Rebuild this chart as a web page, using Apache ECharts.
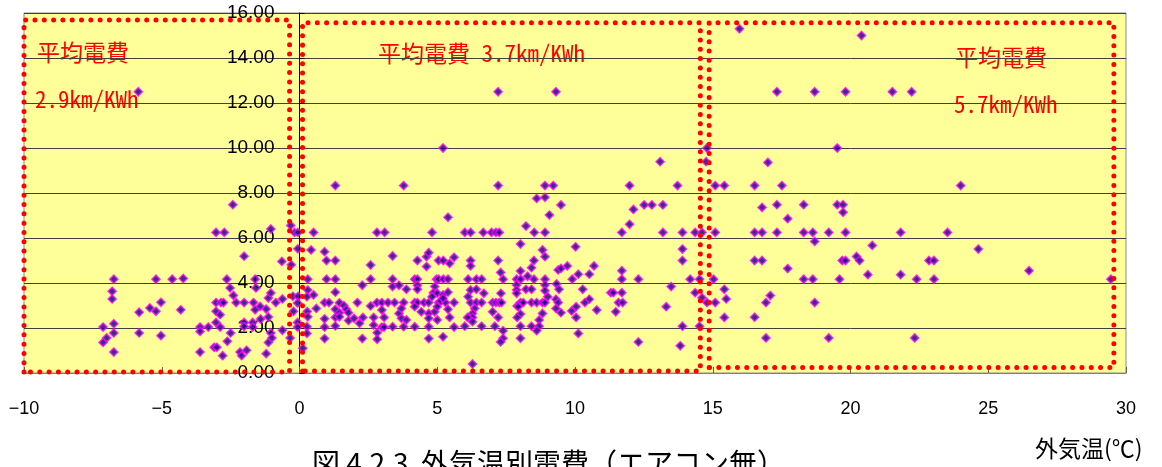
<!DOCTYPE html>
<html>
<head>
<meta charset="utf-8">
<script src="https://cdn.jsdelivr.net/npm/echarts@6/dist/echarts.min.js"></script>
<style>
  html, body { margin: 0; padding: 0; background: #ffffff; }
  #chart { width: 1162px; height: 467px; }
</style>
</head>
<body>
<div id="chart"></div>
<script>
// Outside temperature (°C) vs. electricity efficiency (km/kWh), A/C off.
// Each entry is [temperature, km per kWh].

const tempBelowZero = [
  [-5.85,12.5],[-2.42,7.48],[-3.03,6.25],[-2.73,6.25],[-1.04,6.4],[-2.01,5.19],
  [-0.64,4.96],[-0.32,6.56],[-0.30,4.81],[-0.18,6.25],[-0.06,6.25],[-0.06,5.52],
  [-6.74,4.17],[-5.21,4.17],[-4.62,4.17],[-4.22,4.2],[-2.64,4.17],[-1.61,4.17],
  [-2.52,3.78],[-2.4,3.45],[-6.8,3.63],[-6.8,3.29],[-5.82,2.7],[-5.43,2.89],
  [-5.21,2.74],[-5.03,3.14],[-4.31,2.81],[-7.13,2.04],[-6.74,2.19],[-6.74,1.78],
  [-7.0,1.56],[-7.13,1.36],[-6.74,0.93],[-5.82,1.78],[-5.03,1.66],[-3.61,2.04],
  [-3.61,1.85],[-3.31,2.04],[-3.61,0.93],[-3.03,3.13],[-2.85,3.13],[-2.76,3.13],
  [-3.03,2.74],[-2.88,2.59],[-3.03,2.25],[-2.88,2.04],[-2.5,1.78],[-2.62,1.41],
  [-3.1,1.14],[-3.0,1.14],[-2.79,0.77],[-2.3,3.13],[-2.01,3.13],[-1.67,3.13],
  [-1.58,3.78],[-1.43,2.96],[-1.21,2.84],[-1.13,3.33],[-1.04,3.56],[-0.86,3.13],
  [-1.61,2.81],[-2.01,2.25],[-1.7,2.25],[-1.41,2.4],[-2.01,2.07],[-1.7,2.04],
  [-1.13,2.49],[-1.04,1.78],[-1.13,1.36],[-1.0,1.56],[-2.16,0.93],[-2.1,0.77],
  [-1.92,1.01],[-1.21,0.86],[-0.62,3.29],[-0.62,1.9],[-0.34,1.56],[-0.22,2.74],
  [-0.24,3.41],[-0.05,3.41],[-0.07,3.11],[-0.07,2.25],[-0.07,2.04]
];

const tempZeroToSix = [
  [0.3,4.17],[0.3,3.69],[0.27,3.39],[0.51,3.47],[0.28,2.73],[0.3,2.5],[0.27,2.06],
  [0.27,1.76],[0.12,1.1],[0.61,2.87],[0.51,6.25],[0.42,5.47],
  [5.21,10.0],[1.3,8.33],[3.78,8.33],[5.39,6.92],[2.81,6.25],[3.09,6.25],[4.81,6.25],
  [0.91,5.39],[0.98,5.0],[1.3,5.0],[2.58,4.8],[3.38,5.2],[4.28,5.0],[4.61,5.17],
  [4.69,5.35],[4.61,4.73],[5.05,5.0],[5.22,5.0],[5.45,4.87],[5.61,5.14],
  [0.98,4.17],[1.3,4.17],[2.58,4.17],[3.38,4.17],[4.18,4.17],[4.28,4.17],[4.97,4.17],
  [5.05,4.17],[5.22,4.17],[5.39,4.17],[2.28,3.9],[3.38,3.84],[3.61,3.9],[3.88,3.72],
  [4.28,3.9],[4.28,3.72],[4.91,3.84],[1.3,3.59],[4.86,3.57],[5.0,3.55],[5.21,3.47],
  [5.39,3.59],[0.91,3.13],[1.07,3.13],[2.1,3.13],[2.58,2.98],[2.81,3.13],[2.99,3.13],
  [3.21,3.13],[3.45,3.13],[3.78,3.13],[4.18,3.13],[4.28,3.13],[4.52,3.13],[4.69,3.13],
  [5.05,3.13],[5.13,3.2],[5.3,3.13],[5.61,3.13],[1.45,3.12],[1.61,3.0],[1.3,2.83],
  [1.45,2.68],[1.7,2.83],[1.78,2.68],[1.3,2.47],[1.45,2.5],[1.78,2.33],[1.98,2.43],
  [2.3,2.47],[2.18,2.21],[2.69,2.47],[2.69,2.13],[2.99,2.8],[3.07,2.47],[2.99,2.04],
  [3.07,2.04],[2.82,1.79],[2.82,1.5],[0.91,2.41],[0.91,2.04],[0.91,1.53],[1.3,2.09],
  [2.28,1.53],[3.38,2.06],[3.78,2.06],[3.61,2.65],[3.7,2.87],[3.7,2.43],[3.88,2.36],
  [4.18,2.06],[4.18,2.95],[4.42,2.72],[4.69,2.65],[4.69,2.43],[4.69,2.06],[4.69,1.53],
  [4.91,2.72],[5.0,2.95],[5.0,2.36],[5.21,1.61],[5.39,2.83],[5.45,2.47],[5.61,2.04],
  [5.21,3.32],[4.81,3.39]
];

const tempSixToEleven = [
  [7.21,12.5],[9.31,12.5],
  [7.21,8.33],[8.91,8.33],[9.21,8.33],[8.61,7.76],[8.91,7.81],[9.49,7.47],[9.07,7.02],
  [8.22,6.53],[6.0,6.25],[6.21,6.25],[6.67,6.25],[6.97,6.25],[7.13,6.25],[7.25,6.25],
  [8.52,6.25],[8.91,6.25],[8.02,5.73],[8.82,5.47],[8.91,5.17],[10.02,5.61],
  [6.21,5.0],[6.21,4.76],[7.21,5.0],[8.51,5.0],[7.3,4.47],[8.02,4.53],[8.42,4.68],
  [9.39,4.58],[9.49,4.65],[9.72,4.76],[10.69,4.76],[10.12,4.39],[10.52,4.39],[9.9,4.17],
  [6.12,4.17],[6.42,4.17],[6.61,4.17],[7.39,4.17],[7.88,4.17],[8.03,4.17],[8.28,4.3],
  [8.51,4.17],[8.91,4.17],[7.88,3.91],[7.88,3.69],[7.88,3.54],[8.91,3.91],[9.33,3.96],
  [6.21,3.69],[6.42,3.72],[6.69,3.54],[7.31,3.54],[8.22,3.72],[8.42,3.72],[8.91,3.66],
  [9.42,3.72],[9.01,3.39],[10.28,3.72],[6.12,3.39],[10.52,3.28],[10.36,3.13],
  [6.21,3.13],[6.42,3.13],[6.61,3.13],[7.01,3.13],[7.13,3.13],[7.25,3.13],[7.33,3.13],
  [8.02,3.13],[8.12,3.13],[8.42,3.13],[8.61,3.13],[8.82,3.13],[8.91,3.13],[7.9,2.98],
  [9.31,3.28],[9.39,3.13],[6.36,2.87],[6.28,2.65],[6.28,2.47],[6.28,2.28],[6.1,2.47],
  [7.01,2.72],[7.21,2.47],[7.94,2.95],[8.02,2.62],[7.9,2.47],[8.82,2.65],[8.7,2.36],
  [9.31,2.87],[9.49,2.68],[9.88,2.76],[10.04,2.95],[10.04,2.47],[10.79,2.8],
  [6.0,2.08],[6.61,2.08],[7.09,2.08],[8.02,2.08],[8.42,2.08],[8.7,2.08],[7.39,1.88],
  [8.61,1.88],[7.39,1.54],[7.3,1.38],[8.02,1.54],[10.12,1.76],[6.28,0.4]
];

const tempElevenToSixteen = [
  [14.79,10.0],[14.76,9.39],[13.09,9.39],[11.98,8.33],[13.72,8.33],[15.09,8.33],
  [15.42,8.33],[12.12,7.27],[12.51,7.47],[12.79,7.47],[13.19,7.47],[11.98,6.61],
  [11.7,6.25],[13.19,6.25],[13.9,6.25],[14.36,6.25],[14.61,6.25],[15.09,6.25],
  [13.9,5.51],[13.9,5.0],[11.7,4.55],[11.7,4.17],[12.3,4.17],[14.18,4.17],[14.52,4.17],
  [15.03,4.17],[13.49,3.84],[11.3,3.57],[11.39,3.57],[11.7,3.57],[14.36,3.57],
  [15.42,3.72],[14.61,3.35],[11.58,3.13],[11.73,3.13],[14.79,3.13],[15.09,3.13],
  [15.49,3.29],[13.31,2.95],[11.48,2.72],[15.42,2.47],[13.9,2.08],[14.52,2.08],
  [12.3,1.38],[13.82,1.21],[15.97,15.3]
];

const tempAboveSixteen = [
  [20.4,15.0],[17.33,12.5],[18.7,12.5],[19.82,12.5],[21.52,12.5],[22.22,12.5],
  [19.52,10.0],[17.0,9.36],[16.52,8.33],[17.51,8.33],[24.0,8.33],
  [16.79,7.36],[17.33,7.48],[18.3,7.48],[19.52,7.48],[19.73,7.48],[19.73,7.14],[17.72,6.86],
  [16.52,6.25],[16.79,6.25],[17.33,6.25],[18.3,6.25],[18.63,6.25],[19.21,6.25],
  [19.82,6.25],[21.82,6.25],[23.52,6.25],[18.7,5.85],[20.79,5.67],[24.64,5.51],
  [16.52,5.0],[16.79,5.0],[19.7,5.0],[19.82,5.0],[22.85,5.0],[23.03,5.0],[20.22,5.18],
  [20.33,5.0],[17.72,4.64],[26.48,4.55],[20.63,4.37],[21.82,4.37],
  [18.3,4.17],[18.63,4.17],[19.6,4.17],[22.4,4.17],[23.03,4.17],[29.45,4.17],
  [17.09,3.44],[16.93,3.13],[18.7,3.13],[16.52,2.48],
  [16.93,1.56],[19.21,1.56],[22.33,1.56]
];

// Temperature bands (x range, y range) outlined with red dotted boxes
const bandCold = { x: [-10, -0.36], y: [0.04, 15.69] };
const bandMild = { x: [0.11, 14.55], y: [0.09, 15.57] };
const bandWarm = { x: [14.87, 29.56], y: [0.24, 15.57] };

// Average efficiency notes per band
const noteCold = ['平均電費', '2.9km/KWh'];
const noteMild = '平均電費 3.7km/KWh';
const noteWarm = ['平均電費', '5.7km/KWh'];

const titleText = '図 4.2.3  外気温別電費（エアコン無）';
const xAxisTitle = '外気温(℃)';

// Axis ranges
const xMin = -10, xMax = 30, xStep = 5;
const yMin = 0, yMax = 16, yStep = 2;

const allPoints = [].concat(tempBelowZero, tempZeroToSix, tempSixToEleven,
                            tempElevenToSixteen, tempAboveSixteen);

function boxPath(b) {
  const [x0, x1] = b.x, [y0, y1] = b.y;
  return [[x0, y0], [x0, y1], [x1, y1], [x1, y0], [x0, y0]];
}

function dottedBox(b) {
  return {
    type: 'line',
    data: boxPath(b),
    symbol: 'none',
    silent: true,
    z: 5,
    lineStyle: { color: '#ff0000', width: 5, type: [0.01, 9.3], cap: 'round', join: 'round' }
  };
}

const gridBox = { left: 24, right: 36, top: 13, bottom: 94 };
const plotWidth = 1162 - gridBox.left - gridBox.right;
// the value axis crosses the temperature axis at 0 °C
const yAxisShift = plotWidth * (0 - xMin) / (xMax - xMin);

const noteFont = '23px "Noto Sans Mono CJK JP", "Noto Sans CJK JP", sans-serif';

const chart = echarts.init(document.getElementById('chart'), null, { renderer: 'canvas' });

chart.setOption({
  animation: false,
  grid: Object.assign({}, gridBox, {
    outerBoundsMode: 'none',
    containLabel: false,
    show: true, backgroundColor: '#FFFF99', borderColor: '#8c8c8c', borderWidth: 1
  }),
  xAxis: {
    type: 'value', min: xMin, max: xMax, interval: xStep,
    axisLine: { onZero: false, lineStyle: { color: '#808080', width: 1 } },
    axisTick: { inside: true, length: 6, lineStyle: { color: '#606060' } },
    axisLabel: {
      margin: 27, color: '#000', fontSize: 18,
      fontFamily: '"Liberation Sans", Arial, sans-serif',
      formatter: v => (v < 0 ? '\u2212' + Math.abs(v) : String(v))
    },
    splitLine: { show: false }
  },
  yAxis: {
    type: 'value', min: yMin, max: yMax, interval: yStep,
    position: 'left',
    offset: -yAxisShift,
    axisLine: { show: true, onZero: false, lineStyle: { color: '#000', width: 1 } },
    axisTick: { show: true, inside: true, length: 5, lineStyle: { color: '#000' } },
    axisLabel: {
      margin: 25, color: '#000', fontSize: 19,
      fontFamily: '"Liberation Sans", Arial, sans-serif',
      formatter: v => v.toFixed(2)
    },
    splitLine: { show: true, lineStyle: { color: '#404040', width: 1 } }
  },
  series: [
    {
      type: 'scatter',
      data: allPoints,
      symbol: 'diamond',
      symbolSize: 8,
      z: 3,
      itemStyle: { color: '#000080', borderColor: '#ff00ff', borderWidth: 1.6 }
    },
    dottedBox(bandCold),
    dottedBox(bandMild),
    dottedBox(bandWarm)
  ],
  graphic: [
    { type: 'text', left: 37, top: 41, style: { text: noteCold[0], font: noteFont, fill: '#ff0000' } },
    { type: 'text', left: 35, top: 88, style: { text: noteCold[1], font: noteFont, fill: '#ff0000' } },
    { type: 'text', left: 378, top: 42, style: { text: noteMild, font: noteFont, fill: '#ff0000' } },
    { type: 'text', left: 955, top: 46, style: { text: noteWarm[0], font: noteFont, fill: '#ff0000' } },
    { type: 'text', left: 954, top: 93, style: { text: noteWarm[1], font: noteFont, fill: '#ff0000' } },
    { type: 'text', left: 1035, top: 437, style: { text: xAxisTitle, font: '23px "Noto Sans CJK JP", sans-serif', fill: '#000' } },
    { type: 'text', left: 312, top: 449, style: { text: titleText, font: '28px "Noto Sans CJK JP", sans-serif', fill: '#000' } }
  ]
});
</script>
</body>
</html>
